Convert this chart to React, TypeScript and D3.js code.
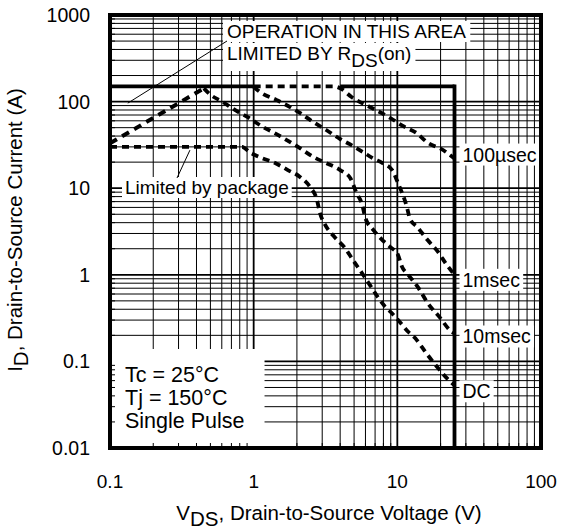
import React, { useEffect, useRef } from "react";
import * as d3 from "d3";

// ---------- data ----------
const X_TICKS = [0.1, 1, 10, 100];
const X_TICK_LABELS = ["0.1", "1", "10", "100"];
const Y_TICKS = [0.01, 0.1, 1, 10, 100, 1000];
const Y_TICK_LABELS = ["0.01", "0.1", "1", "10", "100", "1000"];

const SOA_V_MAX = 25;
const SOA_I_MAX = 150;

// R_DS(on) limited line
const RDS_LIMIT: [number, number][] = [
  [0.1, 33],
  [0.45, 142],
];

const US100: [number, number][] = [
  [1.0, 150], [3.6, 150], [4.0, 143], [4.8, 113], [6.5, 86], [8.9, 65],
  [11, 52], [13.7, 43], [16.1, 34], [20.8, 27.6], [25, 22],
];

const MS1: [number, number][] = [
  [1.0, 148], [1.1, 130], [1.45, 104], [2.1, 74], [2.6, 58], [3.2, 47],
  [4.0, 37], [4.7, 32], [5.8, 26], [6.8, 22], [7.9, 19.5], [9.2, 16.2],
  [10.1, 11.5], [11.7, 5.9], [12.2, 4.5], [13.9, 3.5], [16.3, 2.5],
  [18.9, 1.9], [22.1, 1.3], [25, 1.0],
];

const MS10: [number, number][] = [
  [0.45, 142], [0.5, 120], [0.61, 99], [0.74, 80], [0.91, 66], [1.16, 51],
  [1.41, 43], [1.7, 36], [2.1, 29], [2.6, 23], [3.2, 19.5], [4.0, 16.2],
  [4.7, 13.1], [5.2, 8.8], [5.7, 6.4], [6.0, 4.5], [6.8, 3.3], [7.9, 2.5],
  [8.9, 2.1], [10.1, 1.7], [10.8, 1.23], [11.9, 1.0], [13.9, 0.72],
  [16.3, 0.47], [19.8, 0.32], [23.2, 0.23], [25, 0.21],
];

// DC, including the package-limited flat part
const DC: [number, number][] = [
  [0.1, 30], [0.83, 30], [0.94, 26], [1.14, 22.3], [1.41, 19.5], [1.73, 16.2],
  [2.1, 13.5], [2.47, 10.3], [2.76, 7.3], [2.89, 5.2], [3.14, 3.8],
  [3.68, 2.7], [4.32, 2.04], [4.91, 1.48], [5.67, 1.05], [6.45, 0.76],
  [7.33, 0.55], [8.2, 0.43], [9.17, 0.36], [10.4, 0.285], [11.9, 0.22],
  [13.3, 0.186], [14.8, 0.147], [16.3, 0.118], [19.2, 0.084], [22.1, 0.064],
  [25, 0.053],
];

const CURVES = [US100, MS1, MS10, DC];
const CURVE_LABELS = ["100µsec", "1msec", "10msec", "DC"];
const CONDITIONS = ["Tc = 25°C", "Tj = 150°C", "Single Pulse"];

export default function App() {
  const ref = useRef<SVGSVGElement>(null);

  useEffect(() => {
    const W = 561, H = 531;
    const L = 110, R = 541, T = 15, B = 448;
    const FONT = "'Liberation Sans', Arial, Helvetica, sans-serif";
    const svg = d3.select(ref.current);
    svg.selectAll("*").remove();

    const x = d3.scaleLog().domain([0.1, 100]).range([L, R]);
    const y = d3.scaleLog().domain([0.01, 1000]).range([B, T]);

    svg.append("rect").attr("width", W).attr("height", H).attr("fill", "#fff");

    const gridL = svg.append("g");
    const boxL = svg.append("g");
    const tickL = svg.append("g");
    const curveL = svg.append("g");
    const textL = svg.append("g").attr("font-family", FONT).attr("fill", "#000");

    // grid
    const xMinor: number[] = [];
    [0.1, 1, 10].forEach((d) => { for (let k = 2; k <= 9; k++) xMinor.push(k * d); });
    const yMinor: number[] = [];
    [0.01, 0.1, 1, 10, 100].forEach((d) => { for (let k = 2; k <= 9; k++) yMinor.push(k * d); });

    gridL.selectAll(".vx").data(xMinor).join("line")
      .attr("x1", (d) => x(d)).attr("x2", (d) => x(d)).attr("y1", T).attr("y2", B)
      .attr("stroke", "#000").attr("stroke-width", 1);
    gridL.selectAll(".hy").data(yMinor).join("line")
      .attr("y1", (d) => y(d)).attr("y2", (d) => y(d)).attr("x1", L).attr("x2", R)
      .attr("stroke", "#000").attr("stroke-width", 1);
    gridL.selectAll(".vxM").data(X_TICKS.slice(1, -1)).join("line")
      .attr("x1", (d) => x(d)).attr("x2", (d) => x(d)).attr("y1", T).attr("y2", B)
      .attr("stroke", "#000").attr("stroke-width", 1.8);
    gridL.selectAll(".hyM").data(Y_TICKS.slice(1, -1)).join("line")
      .attr("y1", (d) => y(d)).attr("y2", (d) => y(d)).attr("x1", L).attr("x2", R)
      .attr("stroke", "#000").attr("stroke-width", 1.8);

    // inner ticks (remain visible over white boxes)
    tickL.selectAll(".tx").data(xMinor).join("line")
      .attr("x1", (d) => x(d)).attr("x2", (d) => x(d)).attr("y1", B).attr("y2", B - 5)
      .attr("stroke", "#000").attr("stroke-width", 1);
    tickL.selectAll(".ty").data(yMinor).join("line")
      .attr("y1", (d) => y(d)).attr("y2", (d) => y(d)).attr("x1", L).attr("x2", L + 5)
      .attr("stroke", "#000").attr("stroke-width", 1);

    const addBox = (node: SVGGraphicsElement, px = 3, py = 0) => {
      const b = node.getBBox();
      boxL.append("rect")
        .attr("x", b.x - px).attr("y", b.y - py)
        .attr("width", b.width + 2 * px).attr("height", b.height + 2 * py)
        .attr("fill", "#fff");
    };

    // curves
    const line = d3.line<[number, number]>()
      .x((d) => x(d[0])).y((d) => y(d[1]))
      .curve(d3.curveMonotoneX);

    curveL.append("path").datum(RDS_LIMIT).attr("d", line)
      .attr("fill", "none").attr("stroke", "#000").attr("stroke-width", 4)
      .attr("stroke-dasharray", "8 6");
    CURVES.forEach((c) => {
      curveL.append("path").datum(c).attr("d", line)
        .attr("fill", "none").attr("stroke", "#000").attr("stroke-width", 3.8)
        .attr("stroke-dasharray", "7 5");
    });

    // SOA boundary
    const bnd = curveL.append("g").attr("stroke", "#000").attr("stroke-width", 3.8).attr("fill", "none");
    bnd.append("line").attr("x1", x(0.1)).attr("x2", x(US100[0][0]))
      .attr("y1", y(SOA_I_MAX)).attr("y2", y(SOA_I_MAX));
    bnd.append("line").attr("x1", x(US100[2][0])).attr("x2", x(SOA_V_MAX))
      .attr("y1", y(SOA_I_MAX)).attr("y2", y(SOA_I_MAX));
    bnd.append("line").attr("x1", x(SOA_V_MAX)).attr("x2", x(SOA_V_MAX))
      .attr("y1", y(SOA_I_MAX) - 1.9).attr("y2", B);

    // frame
    svg.append("rect").attr("x", L).attr("y", T).attr("width", R - L).attr("height", B - T)
      .attr("fill", "none").attr("stroke", "#000").attr("stroke-width", 4);

    // annotation: operation area
    const t1 = textL.append("text").attr("x", 227).attr("y", 38).attr("font-size", 19)
      .text("OPERATION IN THIS AREA");
    addBox(t1.node() as SVGGraphicsElement, 4, 0);
    const t2 = textL.append("text").attr("x", 227).attr("y", 60).attr("font-size", 19);
    t2.append("tspan").text("LIMITED BY R");
    t2.append("tspan").attr("dy", 7).text("DS");
    t2.append("tspan").attr("dy", -7).text("(on)");
    addBox(t2.node() as SVGGraphicsElement, 4, 0);
    textL.append("line").attr("x1", 227).attr("y1", 41)
      .attr("x2", x(0.133)).attr("y2", y(96))
      .attr("stroke", "#000").attr("stroke-width", 1);

    // package annotation
    const t3 = textL.append("text").attr("x", 125).attr("y", 194).attr("font-size", 19)
      .text("Limited by package");
    addBox(t3.node() as SVGGraphicsElement, 3, 0);
    textL.append("line").attr("x1", 177).attr("y1", 178)
      .attr("x2", x(0.36)).attr("y2", y(27.5))
      .attr("stroke", "#000").attr("stroke-width", 1);

    // curve labels
    const labelDy = [3, 12, 10, 13];
    CURVES.forEach((c, i) => {
      const last = c[c.length - 1];
      const t = textL.append("text").attr("x", x(SOA_V_MAX) + 8)
        .attr("y", y(last[1]) + labelDy[i]).attr("font-size", 19.5)
        .text(CURVE_LABELS[i]);
      addBox(t.node() as SVGGraphicsElement, 3, 0);
    });

    // conditions block
    const cg = textL.append("g").attr("font-size", 21.5);
    CONDITIONS.forEach((s, i) => {
      cg.append("text").attr("x", 125).attr("y", 382 + i * 23).text(s);
    });
    const cb = (cg.node() as SVGGraphicsElement).getBBox();
    boxL.append("rect").attr("x", L + 2).attr("y", cb.y - 14)
      .attr("width", cb.x + cb.width + 20 - (L + 2)).attr("height", B - (cb.y - 14))
      .attr("fill", "#fff");

    // axis tick labels
    textL.selectAll(".xl").data(X_TICKS).join("text")
      .attr("x", (d) => x(d)).attr("y", 488).attr("text-anchor", "middle")
      .attr("font-size", 19).text((d, i) => X_TICK_LABELS[i]);
    textL.selectAll(".yl").data(Y_TICKS).join("text")
      .attr("x", 90).attr("y", (d) => y(d) + 7).attr("text-anchor", "end")
      .attr("font-size", 19.5).text((d, i) => Y_TICK_LABELS[i]);

    // axis titles
    const xt = textL.append("text").attr("x", 329).attr("y", 520)
      .attr("text-anchor", "middle").attr("font-size", 20.5);
    xt.append("tspan").text("V");
    xt.append("tspan").attr("dy", 6).text("DS");
    xt.append("tspan").attr("dy", -6).text(", Drain-to-Source Voltage (V)");

    const yt = textL.append("text")
      .attr("transform", `translate(22,${230}) rotate(-90)`)
      .attr("text-anchor", "middle").attr("font-size", 20.5);
    yt.append("tspan").text("I");
    yt.append("tspan").attr("dy", 6).text("D");
    yt.append("tspan").attr("dy", -6).text(",  Drain-to-Source Current (A)");
  }, []);

  return (
    <svg
      ref={ref}
      width={561}
      height={531}
      style={{ position: "absolute", left: 0, top: 0, display: "block" }}
    />
  );
}
